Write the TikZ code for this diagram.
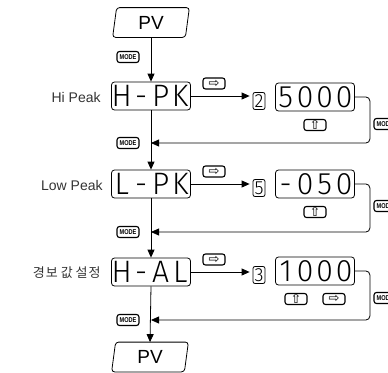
\documentclass[tikz,border=0pt]{standalone}
\usepackage{fontspec}
\setmainfont{Liberation Sans}
\newfontfamily\dispfont[FakeStretch=0.97]{Fira Sans Light}
\newfontfamily\krfont{Noto Sans CJK KR}
\newfontfamily\symfont{DejaVu Sans}
\newfontfamily\modefont[FakeStretch=0.8]{Liberation Sans}
\usetikzlibrary{arrows.meta}
\newcommand\dch[1]{\makebox[19.5pt]{#1}}
\newcommand\fourch[4]{\dch{#1}\dch{#2}\dch{#3}\dch{#4}}
\begin{document}
\begin{tikzpicture}[x=1pt,y=-1pt,line width=0.8pt,
  disp/.style={draw, rounded corners=3pt, minimum width=79pt, minimum height=28pt, inner sep=0pt,
    font=\dispfont\fontsize{31}{31}\selectfont},
  smallbox/.style={draw, rounded corners=2pt, minimum width=12pt, minimum height=17pt, inner sep=0pt,
    font=\dispfont\fontsize{19}{19}\selectfont},
  btn/.style={draw, line width=1.1pt, rounded corners=2.5pt, minimum width=22pt, minimum height=11pt, inner sep=0pt},
  modebtn/.style={btn, font=\modefont\bfseries\fontsize{7}{7}\selectfont},
  arrbtn/.style={btn, font=\symfont\fontsize{13}{13}\selectfont},
  lbl/.style={anchor=east, inner sep=0pt, text=black!80, font=\fontsize{14}{14}\selectfont},
  pvnode/.style={minimum width=76pt, minimum height=29pt, inner sep=0pt, font=\fontsize{19}{19}\selectfont},
  flow/.style={-{Triangle[length=8pt,width=7pt]}},
  ret/.style={flow, rounded corners=4pt}]
\useasboundingbox (0,0) rectangle (388,372);

% PV start
\node[pvnode] (pv1) at (151,22.5) {PV};
\draw[rounded corners=3pt] ([xshift=4pt]pv1.north west) -- (pv1.north east) -- ([xshift=-4pt]pv1.south east) -- (pv1.south west) -- cycle;
% PV end
\node[pvnode] (pv2) at (150,357) {PV};
\draw[rounded corners=3pt] ([xshift=4pt]pv2.north west) -- (pv2.north east) -- ([xshift=-4pt]pv2.south east) -- (pv2.south west) -- cycle;

% display boxes
\node[disp] (hpk) at (151,96) {\fourch{H}{-}{P}{K}};
\node[disp] (lpk) at (151,184) {\fourch{L}{-}{P}{K}};
\node[disp] (hal) at (151,272) {\fourch{H}{-}{A}{L}};

% labels
\node[lbl] (l1) at (101,97) {Hi Peak};
\node[lbl] (l2) at (103,185) {Low Peak};
\node[lbl, font=\krfont\fontsize{13}{13}\selectfont] (l3) at (101,273) {경\hspace{1pt}보 값 설\hspace{1pt}정};

% value boxes
\node[disp] (v1) at (315,97) {\fourch{5}{0}{0}{0}};
\node[disp] (v2) at (315,184) {\fourch{-}{0}{5}{0}};
\node[disp] (v3) at (315,271) {\fourch{1}{0}{0}{0}};
\node[smallbox] (d1) at (259,101) {2};
\node[smallbox] (d2) at (259,188) {5};
\node[smallbox] (d3) at (259,275) {3};

% buttons
\node[modebtn] (m0) at (128,57) {MODE};
\node[modebtn] (m1) at (128,143) {MODE};
\node[modebtn] (m2) at (128,232) {MODE};
\node[modebtn] (m3) at (128,320) {MODE};
\node[modebtn] (r1) at (385,124) {MODE};
\node[modebtn] (r2) at (385,206) {MODE};
\node[modebtn] (r3) at (385,298) {MODE};
\node[arrbtn] (a1) at (214,83.5) {⇨};
\node[arrbtn] (a2) at (214,171.5) {⇨};
\node[arrbtn] (a3) at (214,259.5) {⇨};
\node[arrbtn] (u1) at (315,125) {⇧};
\node[arrbtn] (u2) at (315,212) {⇧};
\node[arrbtn] (u3) at (296,299) {⇧};
\node[arrbtn] (a4) at (334,299) {⇨};

% main flow
\draw[flow] (pv1.south) -- (hpk.north);
\draw[flow] (hpk.south) -- (lpk.north);
\draw[flow] (lpk.south) -- (hal.north);
\draw[flow] (hal.south) -- (pv2.north);

% to value
\draw[flow] (hpk.east) -- ([xshift=-3pt]d1.west |- hpk.east);
\draw[flow] (lpk.east) -- ([xshift=-3pt]d2.west |- lpk.east);
\draw[flow] (hal.east) -- ([xshift=-3pt]d3.west |- hal.east);

% returns
\coordinate (j1) at (151,143);
\coordinate (j2) at (151,232);
\coordinate (j3) at (151,320);
\draw[ret] (v1.east) -- ++(15,0) |- (j1);
\draw[ret] (v2.east) -- ++(15,0) |- (j2);
\draw[ret] (v3.east) -- ++(15,0) |- (j3);
\end{tikzpicture}
\end{document}
